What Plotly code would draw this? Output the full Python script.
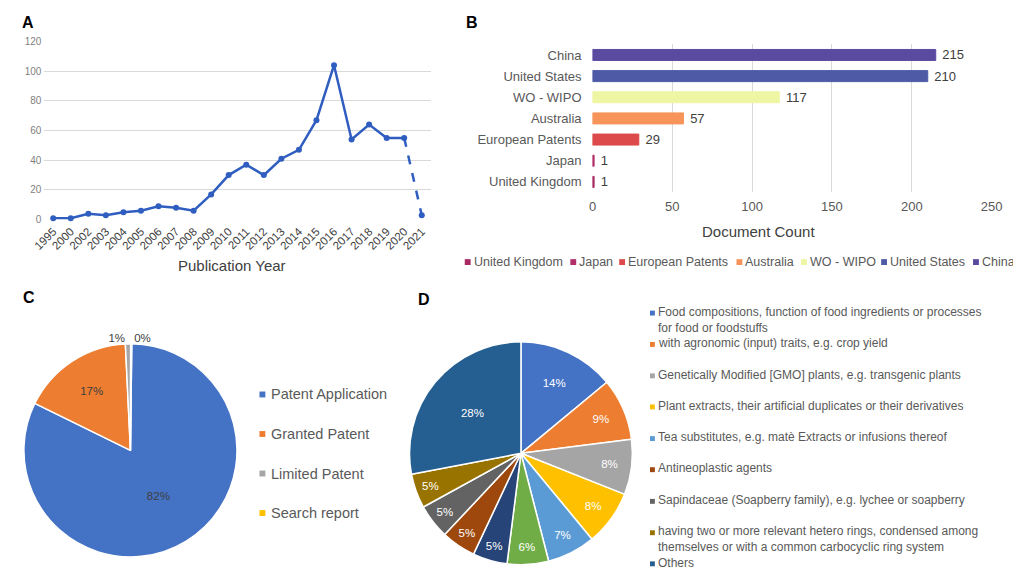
import plotly.graph_objects as go

W, H = 1021, 568
def px(x): return x / W
def py(y): return 1 - y / H

FONT = "Liberation Sans, Arial, sans-serif"
GRAY = "#595959"
DARK = "#404040"

# ---------------- Panel A data ----------------
years = ["1995", "2000", "2002", "2003", "2004", "2005", "2006", "2007", "2008",
         "2009", "2010", "2011", "2012", "2013", "2014", "2015", "2016", "2017",
         "2018", "2019", "2020", "2021"]
publications = [1, 1, 4, 3, 5, 6, 9, 8, 6, 17, 30, 37, 30, 41, 47, 67, 104, 54,
                64, 55, 55, 3]
a_yticks = [0, 20, 40, 60, 80, 100, 120]

# ---------------- Panel B data ----------------
countries = ["China", "United States", "WO - WIPO", "Australia",
             "European Patents", "Japan", "United Kingdom"]
doc_counts = [215, 210, 117, 57, 29, 1, 1]
b_xticks = [0, 50, 100, 150, 200, 250]

# ---------------- Panel C data ----------------
doc_types = ["Patent Application", "Granted Patent", "Limited Patent", "Search report"]
doc_type_counts = [517, 107, 5, 1]

# ---------------- Panel D data ----------------
d_labels = [
    "Food compositions, function of food ingredients or processes<br>for food or foodstuffs",
    "with agronomic (input) traits, e.g. crop yield",
    "Genetically Modified [GMO] plants, e.g. transgenic plants",
    "Plant extracts, their artificial duplicates or their derivatives",
    "Tea substitutes, e.g. matè Extracts or infusions thereof",
    "(unlisted category 1)",
    "(unlisted category 2)",
    "Antineoplastic agents",
    "Sapindaceae (Soapberry family), e.g. lychee or soapberry",
    "having two or more relevant hetero rings, condensed among<br>themselves or with a common carbocyclic ring system",
    "Others",
]
d_shares = [14, 9, 8, 8, 7, 6, 5, 5, 5, 5, 28]
d_in_legend = [True, True, True, True, True, False, False, True, True, True, True]

# ---------------- styles ----------------
b_colors = ["#5A4BA0", "#4E5AA6", "#EEF5A3", "#F7945A", "#DC4A4B", "#B2306A", "#A82A62"]
c_colors = ["#4472C4", "#ED7D31", "#A5A5A5", "#FFC000"]
d_colors = ["#4472C4", "#ED7D31", "#A5A5A5", "#FFC000", "#5B9BD5", "#70AD47",
            "#264478", "#9E480E", "#636363", "#997300", "#255E91"]
LINE_BLUE = "#2F5EC0"

fig = go.Figure()

# ---------------- Panel A ----------------
n = len(years)
fig.add_trace(go.Scatter(
    x=years[:n - 1], y=publications[:n - 1], mode="lines+markers",
    line=dict(color=LINE_BLUE, width=2.5), marker=dict(size=6, color=LINE_BLUE),
    xaxis="x", yaxis="y", showlegend=False, cliponaxis=False))
fig.add_trace(go.Scatter(
    x=years[n - 2:], y=publications[n - 2:], mode="lines",
    line=dict(color=LINE_BLUE, width=2.5, dash="dash"),
    xaxis="x", yaxis="y", showlegend=False, cliponaxis=False))
fig.add_trace(go.Scatter(
    x=years[n - 1:], y=publications[n - 1:], mode="markers",
    marker=dict(size=6, color=LINE_BLUE),
    xaxis="x", yaxis="y", showlegend=False, cliponaxis=False))

# ---------------- Panel B ----------------
fig.add_trace(go.Bar(
    x=doc_counts, y=countries, orientation="h", width=0.52,
    marker=dict(color=b_colors, line=dict(color=b_colors, width=1)),
    text=doc_counts, texttemplate=" %{x}", textposition="outside",
    constraintext="none",
    textfont=dict(size=13, color=DARK, family=FONT), cliponaxis=False,
    xaxis="x2", yaxis="y2", showlegend=False))

# ---------------- Panel C ----------------
fig.add_trace(go.Pie(
    labels=doc_types, values=doc_type_counts, sort=False, direction="clockwise",
    rotation=0.7, marker=dict(colors=c_colors, line=dict(color="white", width=1.5)),
    texttemplate="%{percent:.0%}",
    textposition=["inside", "inside", "outside", "outside"],
    insidetextorientation="horizontal",
    textfont=dict(size=11.5, color=DARK, family=FONT),
    outsidetextfont=dict(size=11.5, color=DARK, family=FONT),
    domain=dict(x=[px(4), px(222)], y=[py(555), py(337)]),
    showlegend=False))

# ---------------- Panel D ----------------
fig.add_trace(go.Pie(
    labels=d_labels, values=d_shares, sort=False, direction="clockwise",
    rotation=0, marker=dict(colors=d_colors, line=dict(color="white", width=1.5)),
    texttemplate="%{percent:.0%}", textposition="inside",
    insidetextorientation="horizontal",
    textfont=dict(size=11.5, color="white", family=FONT),
    domain=dict(x=[px(398.5), px(626.5)], y=[py(563), py(335)]),
    showlegend=False))

annotations = []
shapes = []

# panel letters
for letter, x, y in [("A", 8, 10), ("B", 462, 10), ("C", 9, 290), ("D", 413, 292)]:
    annotations.append(dict(text="<b>%s</b>" % letter, x=px(x), y=py(y), xref="paper",
                            yref="paper", xanchor="center", yanchor="middle",
                            showarrow=False, font=dict(size=16, color="black", family=FONT)))

# axis titles
annotations.append(dict(text="Publication Year", x=px(217), y=py(257), xref="paper",
                        yref="paper", showarrow=False, xanchor="center", yanchor="middle",
                        font=dict(size=15, color=DARK, family=FONT)))
annotations.append(dict(text="Document Count", x=px(756), y=py(223), xref="paper",
                        yref="paper", showarrow=False, xanchor="center", yanchor="middle",
                        font=dict(size=15, color=DARK, family=FONT)))

# legend B (reverse order)
b_leg_x = [458, 566, 616, 736, 802, 884, 978]
b_leg_y = 254
for i, idx in enumerate(range(len(countries) - 1, -1, -1)):
    mx = b_leg_x[i]
    shapes.append(dict(type="rect", xref="paper", yref="paper",
                       x0=px(mx - 3), x1=px(mx + 3), y0=py(b_leg_y + 3), y1=py(b_leg_y - 3),
                       fillcolor=b_colors[idx], line=dict(width=0)))
    annotations.append(dict(text=countries[idx], x=px(mx + 4), y=py(b_leg_y), xref="paper",
                            yref="paper", showarrow=False, xanchor="left", yanchor="middle",
                            font=dict(size=12.5, color=GRAY, family=FONT)))

# legend C
c_leg_y0, c_leg_dy = 389, 40.3
for i, name in enumerate(doc_types):
    yy = c_leg_y0 + i * c_leg_dy
    shapes.append(dict(type="rect", xref="paper", yref="paper",
                       x0=px(245), x1=px(251), y0=py(yy + 3), y1=py(yy - 3),
                       fillcolor=c_colors[i], line=dict(width=0)))
    annotations.append(dict(text=name, x=px(255), y=py(yy), xref="paper", yref="paper",
                            showarrow=False, xanchor="left", yanchor="middle",
                            font=dict(size=14.5, color=GRAY, family=FONT)))

# legend D
d_leg_first_line = [306, 338, 370, 401.7, 434, 465.7, 498, 530, 561.7]
k = 0
for i, name in enumerate(d_labels):
    if not d_in_legend[i]:
        continue
    yy = d_leg_first_line[k]
    k += 1
    shapes.append(dict(type="rect", xref="paper", yref="paper",
                       x0=px(644.5), x1=px(649.5), y0=py(yy + 2.5), y1=py(yy - 2.5),
                       fillcolor=d_colors[i], line=dict(width=0)))
    annotations.append(dict(text=name, x=px(651), y=py(yy - 10.5), xref="paper", yref="paper",
                            showarrow=False, xanchor="left", yanchor="top", align="left",
                            font=dict(size=12, color=GRAY, family=FONT)))

fig.update_layout(
    width=W, height=H, margin=dict(l=0, r=0, t=0, b=0),
    paper_bgcolor="white", plot_bgcolor="white",
    font=dict(family=FONT, color=GRAY),
    xaxis=dict(domain=[px(25), px(420)], type="category", range=[-0.5, n - 0.5],
               tickangle=-45, tickfont=dict(size=11.5, color=DARK), showgrid=False,
               zeroline=False, showline=False, ticks="", ticklabelstandoff=2),
    yaxis=dict(domain=[py(210.7), py(29)], range=[0, 120], tickvals=a_yticks,
               tickfont=dict(size=10, color="#7F7F7F"), showgrid=True, gridcolor="#D9D9D9",
               gridwidth=1, zeroline=False, showline=False, ticks="", ticklabelstandoff=2),
    xaxis2=dict(domain=[px(585.7), px(994)], range=[0, 250], tickvals=b_xticks,
                anchor="y2", tickfont=dict(size=13, color=GRAY), showgrid=True,
                gridcolor="#D9D9D9", gridwidth=1, zeroline=False, showline=False,
                ticks="", ticklabelstandoff=5),
    yaxis2=dict(domain=[py(183), py(32)], anchor="x2", type="category",
                categoryorder="array", categoryarray=countries, autorange="reversed",
                tickfont=dict(size=13, color=GRAY), showgrid=False, zeroline=False,
                showline=False, ticks="", ticklabelstandoff=10),
    annotations=annotations, shapes=shapes,
)

fig.write_html("out.html")
